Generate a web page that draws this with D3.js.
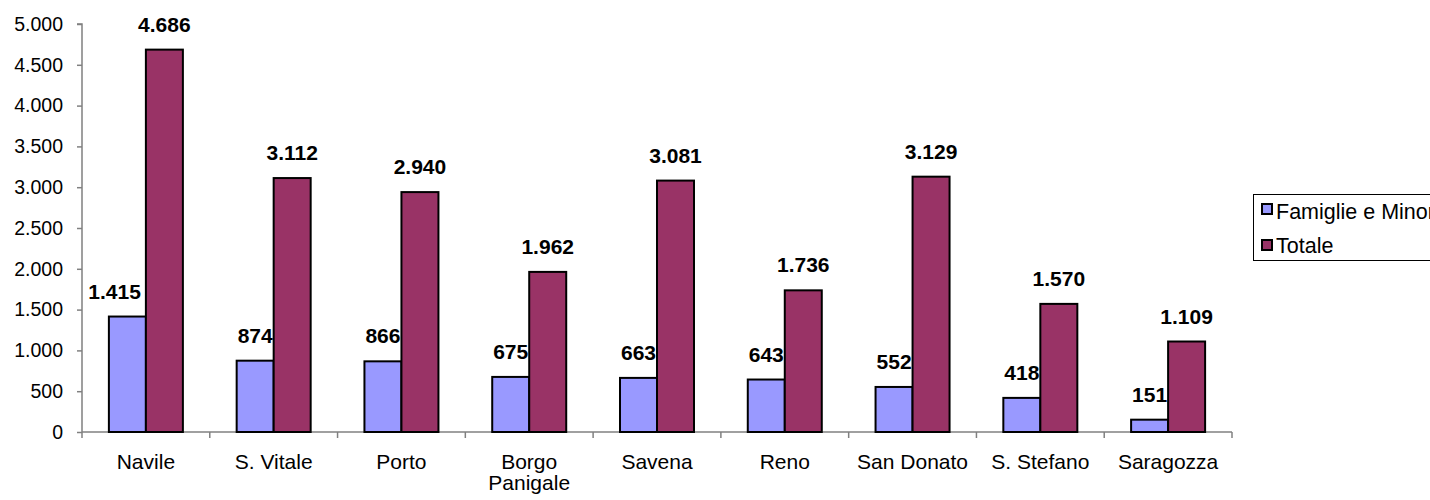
<!DOCTYPE html>
<html><head><meta charset="utf-8">
<script src="https://cdn.jsdelivr.net/npm/d3@7"></script>
<style>body{margin:0;background:#fff;} svg{display:block;}</style>
</head><body>
<svg id="c" width="1430" height="500"></svg>
<script>
const categories = ["Navile","S. Vitale","Porto","Borgo Panigale","Savena","Reno","San Donato","S. Stefano","Saragozza"];
const famiglie = [1415,874,866,675,663,643,552,418,151];
const totale = [4686,3112,2940,1962,3081,1736,3129,1570,1109];
const seriesNames = ["Famiglie e Minori","Totale"];
const seriesColors = ["#9999FF","#993366"];
const yTicks = [0,500,1000,1500,2000,2500,3000,3500,4000,4500,5000];

const svg = d3.select("#c");
const font = "'Liberation Sans', Arial, sans-serif";
const L = 82, R = 1232, T = 24, B = 432;
const fmt = v => d3.format(",")(v).replace(/,/g, ".");

const x = d3.scaleBand().domain(categories).range([L, R]).paddingInner(0).paddingOuter(0);
const xs = d3.scaleBand().domain([0,1]).range([0, 74]);
const y = d3.scaleLinear().domain([0,5000]).range([B, T]);

// y axis
const yAxis = svg.append("g").attr("transform", `translate(${L},0)`)
  .call(d3.axisLeft(y).tickValues(yTicks).tickSize(5).tickPadding(14).tickFormat(fmt));
yAxis.select(".domain").attr("stroke", "#808080").attr("stroke-width", 1.5).attr("d", `M-5,${T}H0V${B}`);
yAxis.selectAll(".tick line").attr("stroke", "#808080").attr("stroke-width", 1.5);
yAxis.selectAll(".tick text").attr("font-family", font).attr("font-size", 19.5).attr("fill", "#000");

// x axis
const xg = svg.append("g");
xg.append("line").attr("x1", L).attr("x2", R).attr("y1", B).attr("y2", B).attr("stroke", "#808080").attr("stroke-width", 1.5);
const bounds = categories.map(c => x(c)).concat([R]);
xg.selectAll(".xt").data(bounds).enter().append("line")
  .attr("x1", d => d).attr("x2", d => d).attr("y1", B).attr("y2", B + 6)
  .attr("stroke", "#808080").attr("stroke-width", 1.5);
xg.selectAll(".xl").data(categories).enter().append("text")
  .attr("font-family", font).attr("font-size", 21).attr("text-anchor", "middle")
  .each(function(d) {
    const words = d === "Borgo Panigale" ? ["Borgo","Panigale"] : [d];
    const t = d3.select(this);
    words.forEach((w, i) => t.append("tspan").attr("x", x(d) + x.bandwidth()/2).attr("y", B + 37 + i*21).text(w));
  });

// bars
const data = [famiglie, totale];
const gw = 74;
const groups = svg.append("g");
data.forEach((vals, s) => {
  groups.selectAll(".b" + s).data(vals).enter().append("rect")
    .attr("x", (d, i) => x(categories[i]) + (x.bandwidth() - gw)/2 + xs(s))
    .attr("width", xs.bandwidth())
    .attr("y", d => y(d)).attr("height", d => B - y(d))
    .attr("fill", seriesColors[s]).attr("stroke", "#000").attr("stroke-width", 2);
});
// labels
data.forEach((vals, s) => {
  groups.selectAll(".l" + s).data(vals).enter().append("text")
    .attr("font-family", font).attr("font-size", 21).attr("font-weight", "bold")
    .attr("text-anchor", "middle").attr("y", d => y(d) - 18)
    .text(d => fmt(d))
    .each(function(d, i) {
      const left = x(categories[i]) + (x.bandwidth() - gw)/2 + xs(s);
      const bw = xs.bandwidth();
      const cx = left + bw/2;
      const w = this.getComputedTextLength();
      let px = cx;
      if (s === 0 && w > bw + 4) px = left + bw - 5 - w/2;
      d3.select(this).attr("x", px);
    });
});

// legend
const lg = svg.append("g");
lg.append("rect").attr("x", 1253.5).attr("y", 194.5).attr("width", 200).attr("height", 66)
  .attr("fill", "#fff").attr("stroke", "#000").attr("stroke-width", 1);
seriesNames.forEach((n, i) => {
  lg.append("rect").attr("x", 1262).attr("y", 204 + i*36).attr("width", 10).attr("height", 10)
    .attr("fill", seriesColors[i]).attr("stroke", "#000").attr("stroke-width", 2);
  lg.append("text").attr("x", 1276).attr("y", 219 + i*34).attr("font-family", font).attr("font-size", 21.5).text(n);
});
</script>
</body></html>
